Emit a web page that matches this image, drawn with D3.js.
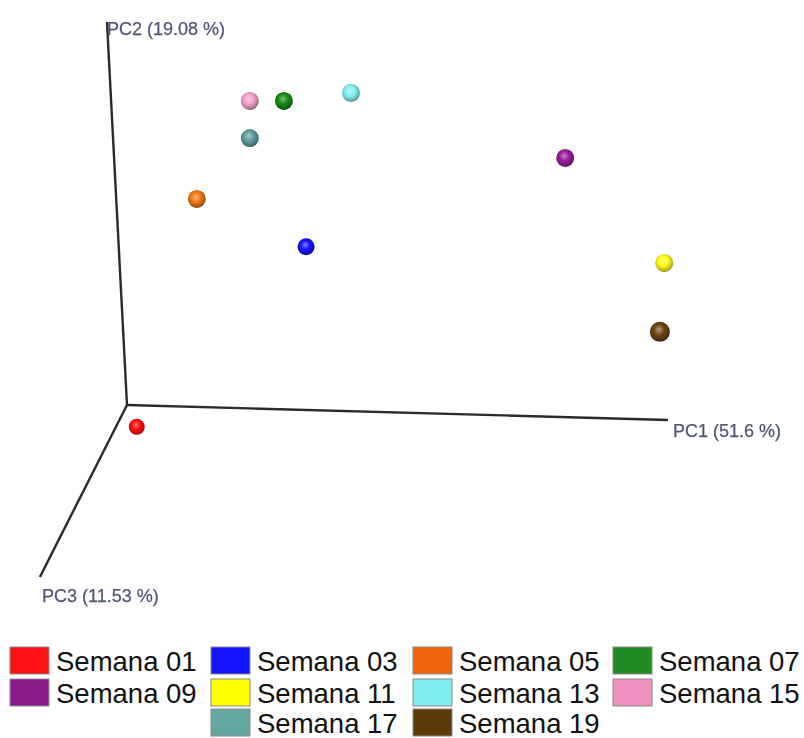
<!DOCTYPE html>
<html>
<head>
<meta charset="utf-8">
<script src="https://cdn.jsdelivr.net/npm/d3@7"></script>
<style>
  html, body { margin: 0; padding: 0; background: #fff; }
  svg { display: block; }
</style>
</head>
<body>
<svg id="chart" width="804" height="738"></svg>
<script>
// Samples (weeks) and their projected PCoA positions on the view plane
const weeks = ["Semana 01", "Semana 03", "Semana 05", "Semana 07", "Semana 09",
               "Semana 11", "Semana 13", "Semana 15", "Semana 17", "Semana 19"];
const projX = [0.018, 0.331, 0.129, 0.290, 0.810, 0.993, 0.414, 0.227, 0.227, 0.985];
const projY = [-0.057, 0.413, 0.538, 0.794, 0.645, 0.371, 0.815, 0.794, 0.697, 0.191];
const sphereColors = ["#ff0a0a", "#1414ff", "#f07814", "#168c16", "#9a1e9a",
                      "#ffff1e", "#86f0f4", "#f4a2c8", "#5e9ea0", "#6c4412"];
const legendColors = ["#ff1212", "#1414ff", "#f0640a", "#228b22", "#8c1a8c",
                      "#ffff00", "#80ecf0", "#f092c0", "#64a6a0", "#5c3a06"];
const sphereRadius = [8, 8.5, 9, 9, 9, 9, 9, 9, 9, 10];

// Principal coordinate axes (end points in projected units) and their labels
const axisNames = ["PC1 (51.6 %)", "PC2 (19.08 %)", "PC3 (11.53 %)"];
const axisEnds = [[1.0, -0.039], [-0.037, 1.0], [-0.161, -0.449]];

const svg = d3.select("#chart");
const x = d3.scaleLinear().domain([0, 1]).range([127, 668]);
const y = d3.scaleLinear().domain([0, 1]).range([405, 22]);

// Sphere shading gradients
const defs = svg.append("defs");
sphereColors.forEach((c, i) => {
  const g = defs.append("radialGradient")
    .attr("id", "sph" + i)
    .attr("cx", "45%").attr("cy", "42%").attr("r", "60%")
    .attr("fx", "45%").attr("fy", "38%");
  const base = d3.color(c);
  g.append("stop").attr("offset", "0%").attr("stop-color", d3.interpolateRgb(c, "#ffffff")(0.45));
  g.append("stop").attr("offset", "45%").attr("stop-color", c);
  g.append("stop").attr("offset", "85%").attr("stop-color", base.darker(0.9));
  g.append("stop").attr("offset", "100%").attr("stop-color", base.darker(2.2));
});
defs.append("filter").attr("id", "soft")
  .append("feGaussianBlur").attr("stdDeviation", 0.6);
defs.append("filter").attr("id", "softText")
  .append("feGaussianBlur").attr("stdDeviation", 0.35);

// Axes
const axes = svg.append("g").attr("filter", "url(#soft)");
axisEnds.forEach(e => {
  axes.append("line")
    .attr("x1", x(0)).attr("y1", y(0))
    .attr("x2", x(e[0])).attr("y2", y(e[1]))
    .attr("stroke", "#2a2a2a").attr("stroke-width", 2.4);
});

// Axis labels
const labelPos = [[673, 437], [107, 35], [42, 602]];
axisNames.forEach((t, i) => {
  svg.append("text")
    .attr("x", labelPos[i][0]).attr("y", labelPos[i][1])
    .attr("font-family", "Liberation Sans, Arial, sans-serif")
    .attr("font-size", 18)
    .attr("fill", "#4e5674")
    .attr("stroke", "#4e5674").attr("stroke-width", 0.25)
    .attr("filter", "url(#softText)")
    .text(t);
});

// Sample spheres
svg.append("g").selectAll("circle")
  .data(weeks.map((w, i) => ({ w, i })))
  .join("circle")
  .attr("cx", d => x(projX[d.i]))
  .attr("cy", d => y(projY[d.i]))
  .attr("r", d => sphereRadius[d.i])
  .attr("fill", d => `url(#sph${d.i})`)
  .attr("filter", "url(#soft)");

// Legend: four columns, filled row by row
const colX = [10, 211, 413, 613];
const rowY = [647, 679, 709];
const leg = svg.append("g");
weeks.forEach((w, i) => {
  let col, row;
  if (i < 8) { col = i % 4; row = Math.floor(i / 4); }
  else { col = i - 8 + 1; row = 2; }
  const gx = colX[col], gy = rowY[row];
  leg.append("rect")
    .attr("x", gx).attr("y", gy).attr("width", 39).attr("height", 27)
    .attr("fill", legendColors[i])
    .attr("stroke", "#8a8a8a").attr("stroke-width", 1);
  leg.append("text")
    .attr("x", gx + 46).attr("y", gy + 24)
    .attr("font-family", "Liberation Sans, Arial, sans-serif")
    .attr("font-size", 27.5)
    .attr("fill", "#111")
    .text(w);
});
</script>
</body>
</html>
